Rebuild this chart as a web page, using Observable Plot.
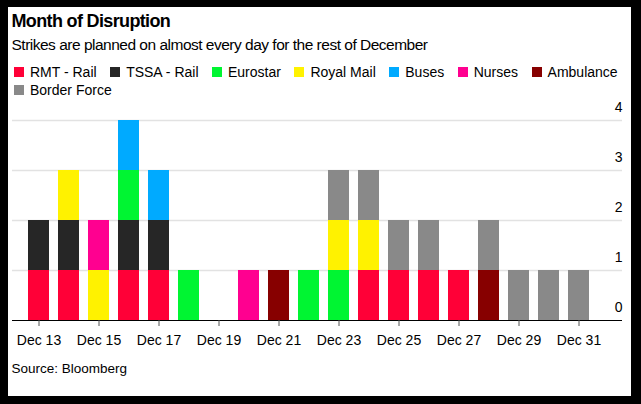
<!DOCTYPE html>
<html>
<head>
<meta charset="utf-8">
<script src="https://cdn.jsdelivr.net/npm/d3@7"></script>
<script src="https://cdn.jsdelivr.net/npm/@observablehq/plot@0.6"></script>
<style>
  body { margin: 0; background: #000; width: 641px; height: 404px; overflow: hidden; font-family: "Liberation Sans", Arial, sans-serif; }
  #panel { position: absolute; left: 8px; top: 7px; width: 623px; height: 389px; background: #fff; overflow: hidden; }
  .t { position: absolute; white-space: nowrap; color: #000; }
  #title { left: 3.5px; top: 5.4px; font-size: 18px; line-height: 18px; font-weight: bold; letter-spacing: -0.65px; }
  #subtitle { left: 3.5px; top: 30.4px; font-size: 15.5px; line-height: 15.5px; letter-spacing: -0.5px; }
  .legrow { position: absolute; left: 6px; display: flex; align-items: center; font-size: 14px; line-height: 14px; white-space: nowrap; }
  .item { display: flex; align-items: center; margin-right: 13.5px; }
  .sw { width: 10px; height: 10px; margin-right: 6px; }
  #source { left: 3.5px; top: 354.9px; font-size: 13.5px; line-height: 13.5px; }
  #chart { position: absolute; left: 0; top: 93px; }
</style>
</head>
<body>
<div id="panel">
  <div class="t" id="title">Month of Disruption</div>
  <div class="t" id="subtitle">Strikes are planned on almost every day for the rest of December</div>
  <div class="legrow" id="leg1" style="top:57.9px"></div>
  <div class="legrow" id="leg2" style="top:76px"></div>
  <div id="chart"></div>
  <div class="t" id="source">Source: Bloomberg</div>
</div>
<script>
const days = ["Dec 13","Dec 14","Dec 15","Dec 16","Dec 17","Dec 18","Dec 19","Dec 20","Dec 21","Dec 22","Dec 23","Dec 24","Dec 25","Dec 26","Dec 27","Dec 28","Dec 29","Dec 30","Dec 31"];
const xTickLabels = ["Dec 13","Dec 15","Dec 17","Dec 19","Dec 21","Dec 23","Dec 25","Dec 27","Dec 29","Dec 31"];
const yTickValues = [0, 1, 2, 3, 4];
const seriesNames = ["RMT - Rail","TSSA - Rail","Eurostar","Royal Mail","Buses","Nurses","Ambulance","Border Force"];
const seriesColors = ["#ff0037","#262626","#00f532","#fff200","#00aaff","#ff0090","#870000","#898989"];

const rmtRail     = [1,1,0,1,1,0,0,0,0,0,0,1,1,1,1,0,0,0,0];
const tssaRail    = [1,1,0,1,1,0,0,0,0,0,0,0,0,0,0,0,0,0,0];
const eurostar    = [0,0,0,1,0,1,0,0,0,1,1,0,0,0,0,0,0,0,0];
const royalMail   = [0,1,1,0,0,0,0,0,0,0,1,1,0,0,0,0,0,0,0];
const buses       = [0,0,0,1,1,0,0,0,0,0,0,0,0,0,0,0,0,0,0];
const nurses      = [0,0,1,0,0,0,0,1,0,0,0,0,0,0,0,0,0,0,0];
const ambulance   = [0,0,0,0,0,0,0,0,1,0,0,0,0,0,0,1,0,0,0];
const borderForce = [0,0,0,0,0,0,0,0,0,0,1,1,1,1,0,1,1,1,1];

const seriesValues = [rmtRail, tssaRail, eurostar, royalMail, buses, nurses, ambulance, borderForce];

const rows = [];
seriesNames.forEach((name, s) => {
  seriesValues[s].forEach((v, i) => {
    if (v > 0) rows.push({day: days[i], series: name, value: v});
  });
});

// Legend
function addItem(container, name, color) {
  const it = document.createElement("div");
  it.className = "item";
  const sw = document.createElement("div");
  sw.className = "sw";
  sw.style.background = color;
  const lb = document.createElement("span");
  lb.textContent = name;
  it.appendChild(sw); it.appendChild(lb);
  container.appendChild(it);
}
const leg1 = document.getElementById("leg1");
const leg2 = document.getElementById("leg2");
seriesNames.forEach((n, i) => addItem(i < 7 ? leg1 : leg2, n, seriesColors[i]));

const chart = Plot.plot({
  width: 623,
  height: 250,
  marginLeft: 4,
  marginRight: 9,
  marginTop: 20,
  marginBottom: 30,
  style: {fontFamily: "Liberation Sans, Arial, sans-serif", fontSize: "14px", background: "transparent", color: "#000"},
  x: {domain: days, range: [14.2, 587.4], paddingInner: 0.3, paddingOuter: 0.15, label: null},
  y: {domain: [0, 4], label: null},
  color: {domain: seriesNames, range: seriesColors},
  marks: [
    Plot.ruleY(yTickValues.filter(d => d > 0), {stroke: "#e2e2e2", strokeWidth: 1.5}),
    Plot.barY(rows, {x: "day", y: "value", fill: "series", order: seriesNames}),
    Plot.ruleY([0], {stroke: "#000", strokeWidth: 1}),
    Plot.axisX({ticks: xTickLabels, tickSize: 6, tickPadding: 9, stroke: "#555", fontSize: 14, label: null}),
    Plot.axisY({anchor: "right", ticks: yTickValues, tickFormat: d3.format("d"), tickSize: 0, tickPadding: 0, textAnchor: "end", dy: -13, fontSize: 14, label: null})
  ]
});
document.getElementById("chart").appendChild(chart);
</script>
</body>
</html>
